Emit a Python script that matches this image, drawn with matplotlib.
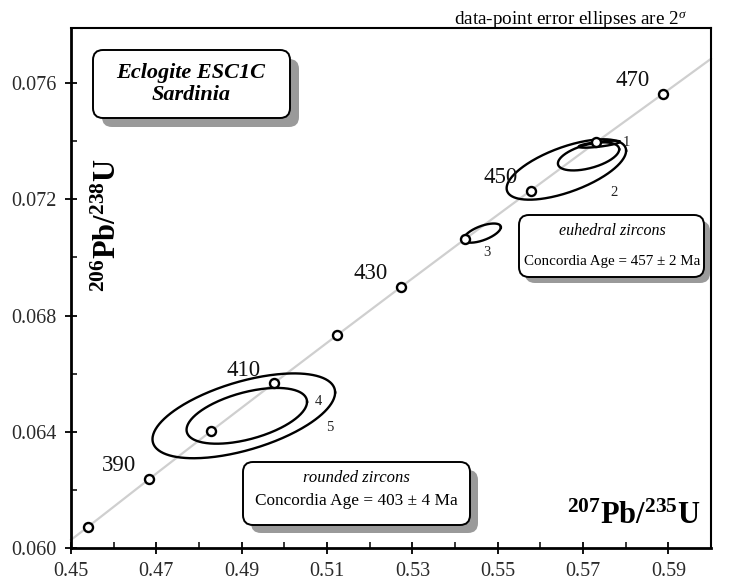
import matplotlib
matplotlib.use("Agg")
import matplotlib.pyplot as plt
import numpy as np
from matplotlib.patches import FancyBboxPatch
from matplotlib.transforms import Affine2D
from matplotlib.ticker import MultipleLocator, FormatStrFormatter

plt.rcParams['font.family'] = ['Liberation Serif', 'DejaVu Serif']
plt.rcParams['mathtext.fontset'] = 'custom'
plt.rcParams['mathtext.rm'] = 'Liberation Serif'
plt.rcParams['mathtext.it'] = 'Liberation Serif:italic'
plt.rcParams['mathtext.bf'] = 'Liberation Serif:bold'

# concordia age marks (Ma) and ratios
conc_age = [380, 390, 400, 410, 420, 430, 440, 450, 460, 470]
conc_x = [0.4539, 0.4683, 0.4828, 0.4975, 0.5123, 0.5273, 0.5424, 0.5577, 0.5731, 0.5887]
conc_y = [0.06072, 0.06237, 0.06402, 0.06567, 0.06732, 0.06898, 0.07064, 0.07230, 0.07397, 0.07563]
labelled_ages = [390, 410, 430, 450, 470]

# where the concordia leaves the frame
curve_start = (0.450, 0.06028)
curve_end = (0.600, 0.07684)

# error ellipses: centre, half width, half height, correlation
ell_cx = [0.5738, 0.5713, 0.5661, 0.5464, 0.4912, 0.4905]
ell_cy = [0.07390, 0.07348, 0.07303, 0.07084, 0.06455, 0.06455]
ell_hx = [0.00482, 0.00718, 0.01400, 0.00435, 0.01412, 0.02140]
ell_hy = [0.00012, 0.000483, 0.00104, 0.00033, 0.000960, 0.00146]
ell_rho = [0.70, 0.50, 0.62, 0.62, 0.50, 0.55]

# spot numbers next to the ellipses
spot_names = ["1", "2", "3", "4", "5"]
spot_x = [0.5801, 0.5773, 0.5474, 0.5079, 0.5107]
spot_y = [0.07397, 0.07224, 0.07017, 0.06503, 0.06414]

W, H = 752, 584
fig = plt.figure(figsize=(W / 100, H / 100), dpi=100)
ax = fig.add_axes([71 / W, 1 - 548 / H, 640 / W, 520 / H])

# image pixel coordinates (y down) -> display
px = Affine2D().scale(1, -1).translate(0, H)

curve_x = [curve_start[0]] + conc_x + [curve_end[0]]
curve_y = [curve_start[1]] + conc_y + [curve_end[1]]
ax.plot(curve_x, curve_y, color='#cfcfcf', lw=1.6, zorder=1, clip_on=False)

t = np.linspace(0, 2 * np.pi, 300)
for cx, cy, hx, hy, r in zip(ell_cx, ell_cy, ell_hx, ell_hy, ell_rho):
    ex = cx + hx * np.cos(t)
    ey = cy + hy * (r * np.cos(t) + np.sqrt(1 - r ** 2) * np.sin(t))
    ax.plot(ex, ey, color='black', lw=1.7, zorder=2)

ax.plot(conc_x, conc_y, 'o', ms=6.5, mfc='white', mec='black', mew=1.7, zorder=3)

for age, x, y in zip(conc_age, conc_x, conc_y):
    if age in labelled_ages:
        ax.annotate(str(age), (x, y), xytext=(-21.5, 9.5), textcoords='offset points',
                    ha='center', va='center', fontsize=16.5, color='#111111')

for name, x, y in zip(spot_names, spot_x, spot_y):
    ax.text(x, y, name, ha='center', va='center', fontsize=10.5, color='#222222')

ax.set_xlim(0.45, 0.60)
ax.set_ylim(0.060, 0.0779)
ax.xaxis.set_major_locator(MultipleLocator(0.02, offset=0.01))
ax.xaxis.set_minor_locator(MultipleLocator(0.01))
ax.yaxis.set_major_locator(MultipleLocator(0.004))
ax.yaxis.set_minor_locator(MultipleLocator(0.002))
ax.xaxis.set_major_formatter(FormatStrFormatter('%.2f'))
ax.yaxis.set_major_formatter(FormatStrFormatter('%.3f'))
ax.tick_params(which='major', direction='inout', length=9, width=1.3,
               labelsize=14.5, labelcolor='#2a2a2a')
ax.tick_params(axis='x', which='major', pad=5.5)
ax.tick_params(axis='y', which='major', pad=6)
ax.tick_params(which='minor', direction='in', length=4, width=1.1)
for side in ['left', 'bottom']:
    ax.spines[side].set_linewidth(2.0)
for side in ['top', 'right']:
    ax.spines[side].set_linewidth(1.5)

# axis titles sit inside the frame
fig.text(108, 225, r'$\mathbf{^{206}Pb/^{238}U}$', transform=px, rotation=90,
         ha='center', va='center', fontsize=22)
fig.text(634, 516, r'$\mathbf{^{207}Pb/^{235}U}$', transform=px,
         ha='center', va='center', fontsize=22)

fig.text(571, 25, r'data-point error ellipses are 2$^{\sigma}$', transform=px,
         ha='center', va='baseline', fontsize=13.8)


def shadow_box(x0, y0, x1, y1, off):
    sh = FancyBboxPatch((x0 + off, y0 + off), x1 - x0, y1 - y0,
                        boxstyle='round,pad=0,rounding_size=10', transform=px,
                        fc='#9a9a9a', ec='none', zorder=5)
    bx = FancyBboxPatch((x0, y0), x1 - x0, y1 - y0,
                        boxstyle='round,pad=0,rounding_size=10', transform=px,
                        fc='white', ec='black', lw=1.4, zorder=6)
    fig.patches.extend([sh, bx])


shadow_box(93, 50, 290, 118, 9)
fig.text(191, 84, 'Eclogite ESC1C\nSardinia', transform=px, ha='center', va='center',
         fontsize=16, fontweight='bold', fontstyle='italic', linespacing=1.15, zorder=7)

shadow_box(519, 215, 704, 277, 6)
fig.text(612, 231, 'euhedral zircons', transform=px, ha='center', va='center',
         fontsize=11.5, fontstyle='italic', zorder=7)
fig.text(612, 262, 'Concordia Age = 457 ± 2 Ma', transform=px, ha='center', va='center',
         fontsize=10.8, zorder=7)

shadow_box(243, 462, 470, 525, 8)
fig.text(356, 478, 'rounded zircons', transform=px, ha='center', va='center',
         fontsize=12, fontstyle='italic', zorder=7)
fig.text(356, 501, 'Concordia Age = 403 ± 4 Ma', transform=px, ha='center', va='center',
         fontsize=12.4, zorder=7)

fig.savefig('out.png', dpi=100)
